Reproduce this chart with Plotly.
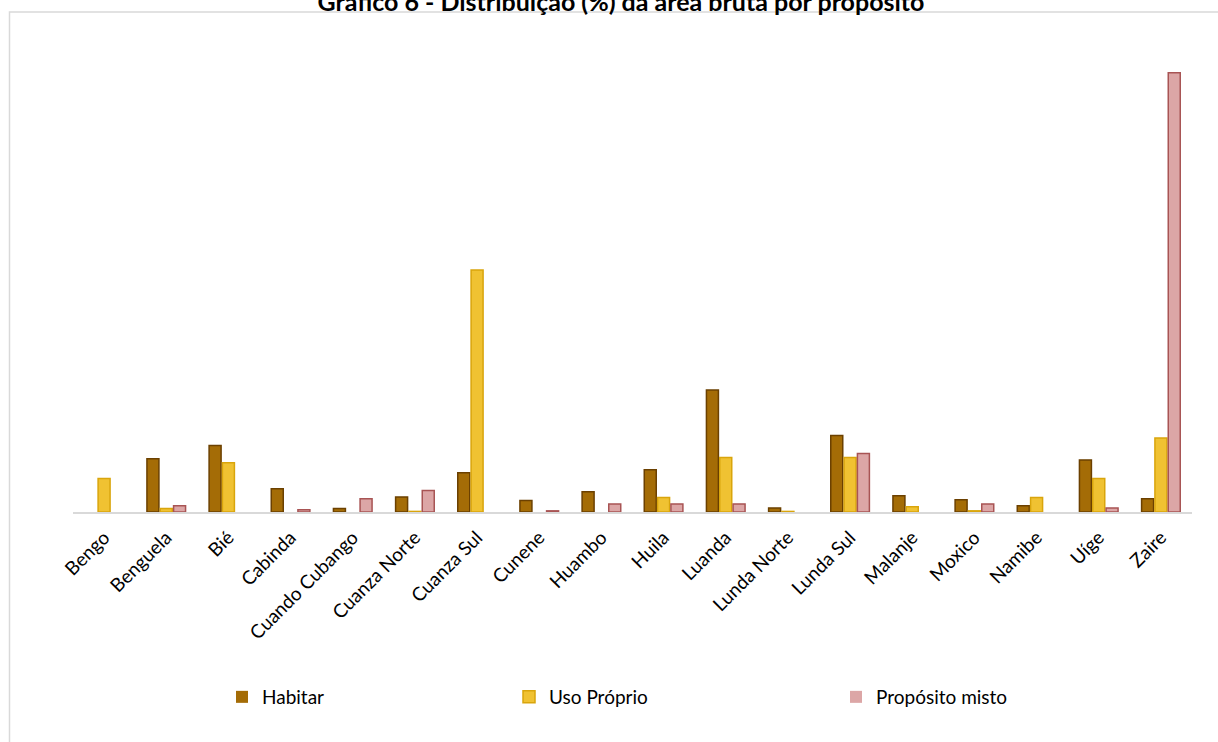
import plotly.graph_objects as go

# Distribution (%) of gross area by purpose, per province
provincias = ["Bengo", "Benguela", "Bié", "Cabinda", "Cuando Cubango", "Cuanza Norte",
              "Cuanza Sul", "Cunene", "Huambo", "Huila", "Luanda", "Lunda Norte",
              "Lunda Sul", "Malanje", "Moxico", "Namibe", "Uíge", "Zaire"]

habitar = [0.0, 9.2, 11.5, 4.0, 0.6, 2.6, 6.8, 2.0, 3.5, 7.3, 21.1, 0.7,
           13.2, 2.8, 2.1, 1.1, 9.0, 2.3]
uso_proprio = [5.8, 0.6, 8.5, 0.0, 0.0, 0.1, 41.8, 0.0, 0.0, 2.5, 9.4, 0.1,
               9.4, 0.9, 0.2, 2.5, 5.8, 12.8]
proposito_misto = [0.0, 1.1, 0.0, 0.4, 2.3, 3.7, 0.0, 0.2, 1.4, 1.4, 1.4, 0.0,
                   10.1, 0.0, 1.4, 0.0, 0.7, 75.9]

W, H = 1218, 742
ML, MR, MT, MB = 73, 26, 49, 230
PW, PH = W - ML - MR, H - MT - MB

FONT = "Lato, 'Open Sans', sans-serif"

series = [
    ("Habitar", habitar, "#a46c06", "#6b4000", "legend"),
    ("Uso Próprio", uso_proprio, "#f0c232", "#d9a50c", "legend2"),
    ("Propósito misto", proposito_misto, "#dca6a6", "#a85454", "legend3"),
]

fig = go.Figure()
for name, vals, fill, edge, leg in series:
    # no outline on empty bars so they stay invisible
    edge_w = [1.5 if v > 0 else 0 for v in vals]
    fig.add_trace(go.Bar(
        x=provincias, y=vals, name=name, legend=leg,
        marker=dict(color=fill, line=dict(color=edge, width=edge_w)),
        hoverinfo="x+y+name",
    ))


def px_x(p):
    return (p - ML) / PW


def px_y(p):
    return (H - MB - p) / PH


legend_style = dict(orientation="h", yanchor="middle", xanchor="left",
                    font=dict(family=FONT, size=19, color="#000000"),
                    bgcolor="rgba(0,0,0,0)", itemwidth=30)

fig.update_layout(
    width=W, height=H,
    margin=dict(l=ML, r=MR, t=MT, b=MB, autoexpand=False),
    paper_bgcolor="white", plot_bgcolor="white",
    showlegend=True,
    barmode="group", bargap=0.357, bargroupgap=0.1,
    title=dict(text="<b>Gráfico 6 - Distribuição (%) da área bruta por propósito</b>",
               x=621 / W, xanchor="center", xref="container",
               y=1 - 11 / H, yanchor="bottom", yref="container",
               font=dict(family=FONT, size=25, color="#000000")),
    xaxis=dict(showgrid=False, zeroline=False, showline=True, linecolor="#d9d9d9",
               linewidth=2, ticks="", tickangle=-45, ticklabelstandoff=5,
               tickfont=dict(family=FONT, size=19, color="#000000")),
    yaxis=dict(range=[0, 80], showgrid=False, zeroline=False, showline=False,
               showticklabels=False, ticks=""),
    legend=dict(x=px_x(222), y=px_y(697), **legend_style),
    legend2=dict(x=px_x(509), y=px_y(697), **legend_style),
    legend3=dict(x=px_x(836), y=px_y(697), **legend_style),
    shapes=[dict(type="rect", xref="paper", yref="paper",
                 x0=px_x(9.5), x1=px_x(W + 20), y0=px_y(H + 20), y1=px_y(12),
                 line=dict(color="#d9d9d9", width=1.5), fillcolor="rgba(0,0,0,0)",
                 layer="below")],
)

fig.write_html("out.html")
